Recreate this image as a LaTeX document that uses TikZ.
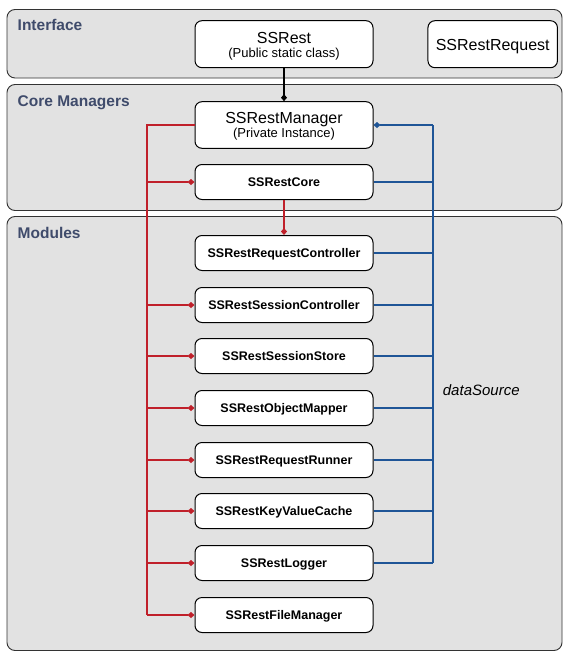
\documentclass[tikz,border=0pt]{standalone}
\usepackage{fontspec}
\setmainfont{Liberation Sans}
\usetikzlibrary{arrows.meta}
\definecolor{panelfill}{HTML}{E2E2E2}
\definecolor{titlecol}{HTML}{3F4B6B}
\definecolor{redc}{HTML}{C0202A}
\definecolor{bluec}{HTML}{1F5597}
\begin{document}
\begin{tikzpicture}[x=1pt,y=-1pt,
 panel/.style={draw=black!80, fill=panelfill, rounded corners=8pt, line width=0.9pt},
 box/.style={draw=black, fill=white, rounded corners=7pt, line width=1pt, minimum width=178pt, inner sep=0pt},
 modbox/.style={box, minimum height=35pt, text height=9pt, text depth=0pt, font=\fontsize{12.5}{14}\selectfont\bfseries},
 ptitle/.style={anchor=base west, text=titlecol, font=\fontsize{15.5}{18}\selectfont\bfseries, inner sep=0pt},
 bigtxt/.style={anchor=base, inner sep=0pt, font=\fontsize{16}{18}\selectfont},
 subtxt/.style={anchor=base, inner sep=0pt, font=\fontsize{13}{15}\selectfont},
 redl/.style={draw=redc, line width=1.2pt},
 bluel/.style={draw=bluec, line width=1.2pt},
 blackl/.style={draw=black, line width=1.2pt},
 dtip/.style={-{Diamond[length=7pt,width=6pt]}}
]
\useasboundingbox (0,0) rectangle (571,662);
\fill[white] (0,0) rectangle (571,662);
% panels
\draw[panel] (7,9.5) rectangle (562,78);
\draw[panel] (7,84.5) rectangle (562,210.5);
\draw[panel] (7,216.5) rectangle (562,650.5);
\node[ptitle] (tI) at (17.5,30.5) {Interface};
\node[ptitle] (tC) at (17.5,106) {Core Managers};
\node[ptitle] (tM) at (17.5,238) {Modules};
% interface
\node[box, minimum height=47pt] (rest) at (284,44.2) {};
\node[bigtxt] (restA) at (284,43.3) {SSRest};
\node[subtxt] (restB) at (284,57.4) {(Public static class)};
\node[box, minimum width=129.5pt, minimum height=47pt] (req) at (492.7,44.2) {};
\node[bigtxt] (reqA) at (492.7,50) {SSRestRequest};
% core
\node[box, minimum height=46.6pt] (mgr) at (284,125) {};
\node[bigtxt] (mgrA) at (284,123.3) {SSRestManager};
\node[subtxt] (mgrB) at (284,137.4) {(Private Instance)};
\node[modbox] (core) at (284,182) {SSRestCore};
% modules
\node[modbox] (rc) at (284,253) {SSRestRequestController};
\node[modbox] (sc) at (284,305) {SSRestSessionController};
\node[modbox] (ss) at (284,356) {SSRestSessionStore};
\node[modbox] (om) at (284,408) {SSRestObjectMapper};
\node[modbox] (rr) at (284,460) {SSRestRequestRunner};
\node[modbox] (kv) at (284,511) {SSRestKeyValueCache};
\node[modbox] (lg) at (284,563) {SSRestLogger};
\node[modbox] (fm) at (284,615) {SSRestFileManager};
% connectors
\draw[blackl, dtip] (rest.south) -- (mgr.north);
\coordinate (rtop) at (147,125);
\coordinate (btop) at (433,125);
\draw[redl] (mgr.west) -- (rtop) -- (rtop |- fm.west);
\foreach \n in {core,sc,ss,om,rr,kv,lg,fm}{
  \draw[redl, dtip] (rtop |- \n.west) -- (\n.west);
}
\draw[redl, dtip] (core.south) -- (rc.north);
\draw[bluel, dtip] (btop) -- (mgr.east);
\draw[bluel] (btop) -- (btop |- lg.east);
\foreach \n in {core,rc,sc,ss,om,rr,kv,lg}{
  \draw[bluel] (\n.east) -- (btop |- \n.east);
}
\node[anchor=base west, inner sep=0pt, font=\fontsize{15}{18}\selectfont\itshape] (ds) at (442.7,395) {dataSource};
\end{tikzpicture}
\end{document}
